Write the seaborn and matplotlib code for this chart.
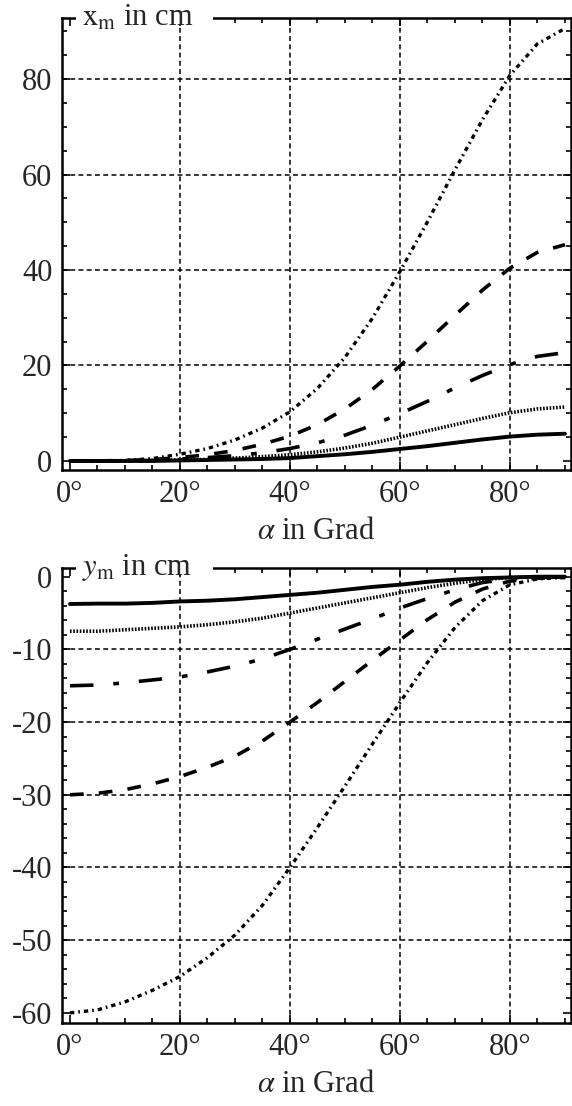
import matplotlib
matplotlib.use("Agg")
import matplotlib.pyplot as plt
from matplotlib.patches import Rectangle
from matplotlib.ticker import FixedLocator, MultipleLocator, FuncFormatter
import seaborn as sns

# Winkel in Grad
alpha = [0, 5, 10, 15, 20, 25, 30, 35, 40, 45, 50, 55, 60, 65, 70, 75, 80, 85, 90]

# x_m in cm (oben), fuenf Kurven
xm_1 = [0, 0, 0, 0, 0.1, 0.2, 0.3, 0.4, 0.6, 1.0, 1.4, 1.9, 2.5, 3.1, 3.8, 4.5, 5.1, 5.5, 5.7]
xm_2 = [0, 0, 0, 0.1, 0.2, 0.3, 0.6, 0.9, 1.3, 1.9, 2.7, 3.7, 5.0, 6.3, 7.6, 8.9, 10.1, 10.9, 11.3]
xm_3 = [0, 0, 0, 0.1, 0.4, 0.7, 1.1, 1.7, 2.6, 3.8, 5.4, 7.5, 9.9, 12.5, 15.3, 17.9, 20.2, 21.9, 22.7]
xm_4 = [0, 0, 0.1, 0.3, 0.7, 1.3, 2.2, 3.5, 5.2, 7.6, 10.9, 15.0, 19.9, 25.1, 30.5, 35.8, 40.4, 43.7, 45.3]
xm_5 = [0, 0, 0.1, 0.5, 1.4, 2.6, 4.4, 6.9, 10.3, 15.2, 21.7, 29.9, 39.7, 50.1, 61.0, 71.5, 80.8, 87.4, 90.6]

# y_m in cm (unten)
ym_1 = [-3.75, -3.7, -3.7, -3.6, -3.4, -3.3, -3.1, -2.8, -2.5, -2.2, -1.8, -1.4, -1.1, -0.7, -0.4, -0.2, -0.1, 0, 0]
ym_2 = [-7.5, -7.5, -7.3, -7.1, -6.9, -6.6, -6.2, -5.7, -5.0, -4.3, -3.6, -2.9, -2.2, -1.5, -0.9, -0.4, -0.1, 0, 0]
ym_3 = [-15, -14.9, -14.6, -14.2, -13.8, -13.1, -12.3, -11.3, -10.0, -8.6, -7.2, -5.8, -4.3, -3.0, -1.8, -0.8, -0.3, -0.1, 0]
ym_4 = [-30, -29.8, -29.3, -28.5, -27.5, -26.2, -24.7, -22.6, -20.0, -17.3, -14.4, -11.5, -8.7, -5.9, -3.5, -1.7, -0.6, -0.2, -0.1]
ym_5 = [-60, -59.6, -58.5, -56.9, -55.0, -52.4, -49.3, -45.2, -40.0, -34.5, -28.8, -23.0, -17.3, -11.8, -7.0, -3.3, -1.1, -0.3, -0.1]

x_ticks = [0, 20, 40, 60, 80]
top_yticks = [0, 20, 40, 60, 80]
bottom_yticks = [0, -10, -20, -30, -40, -50, -60]

sns.set_style("ticks")
plt.rcParams['font.family'] = ['Liberation Serif', 'DejaVu Serif']
plt.rcParams['mathtext.fontset'] = 'stix'
plt.rcParams['axes.unicode_minus'] = False

styles = [
    ('-', 2.8),
    ((0, (0.45, 0.45)), 2.6),
    ((0, (6.5, 5.5, 1.6, 5.5)), 2.6),
    ((0, (3.8, 4.2)), 2.6),
    ((0, (1.3, 1.2, 0.5, 1.2)), 2.4),
]
grid_ls = (0, (3.2, 2.2))

fig = plt.figure(figsize=(5.72, 11.06), dpi=100)
ax1 = fig.add_axes([62/572, 1 - 470/1106, 509/572, 452/1106])
ax2 = fig.add_axes([62/572, 1 - 1023/1106, 509/572, 455/1106])

for ys, (ls, lw) in zip([xm_1, xm_2, xm_3, xm_4, xm_5], styles):
    sns.lineplot(x=alpha, y=ys, ax=ax1, color='black', linestyle=ls, linewidth=lw,
                 dash_capstyle='butt')
for ys, (ls, lw) in zip([ym_1, ym_2, ym_3, ym_4, ym_5], styles):
    sns.lineplot(x=alpha, y=ys, ax=ax2, color='black', linestyle=ls, linewidth=lw,
                 dash_capstyle='butt')

ax1.set_ylim(-1.9, 92.8)
ax2.set_ylim(-61.4, 1.2)
ax1.yaxis.set_major_locator(FixedLocator(top_yticks))
ax1.yaxis.set_minor_locator(MultipleLocator(5))
ax2.yaxis.set_major_locator(FixedLocator(bottom_yticks))
ax2.yaxis.set_minor_locator(MultipleLocator(2))

# Gitter nur innen (nicht bei 0 bzw. -60)
for v in x_ticks[1:]:
    ax1.axvline(v, color='black', ls=grid_ls, lw=1.1, zorder=0.5)
    ax2.axvline(v, color='black', ls=grid_ls, lw=1.1, zorder=0.5)
for v in top_yticks[1:]:
    ax1.axhline(v, color='black', ls=grid_ls, lw=1.1, zorder=0.5)
for v in bottom_yticks[1:-1]:
    ax2.axhline(v, color='black', ls=grid_ls, lw=1.1, zorder=0.5)

for ax in (ax1, ax2):
    ax.set_xlim(-1.45, 91.1)
    ax.xaxis.set_major_locator(FixedLocator(x_ticks))
    ax.xaxis.set_minor_locator(MultipleLocator(5))
    ax.xaxis.set_major_formatter(FuncFormatter(lambda v, p: f"{int(v)}°"))
    ax.yaxis.set_major_formatter(FuncFormatter(lambda v, p: f"{int(v)}"))
    ax.grid(False)
    ax.tick_params(which='both', direction='in', top=True, right=True, labelsize=22,
                   color='black', width=1.2, pad=7)
    ax.tick_params(which='major', length=6)
    ax.tick_params(which='minor', length=3.5)
    for s in ax.spines.values():
        s.set_linewidth(1.8)
        s.set_color('black')
    ax.set_xlabel(r"$\alpha$ in Grad", fontsize=22, labelpad=6)
    ax.set_ylabel("")
    # weisses Feld fuer die Achsenbeschriftung auf der oberen Kante
    ax.add_patch(Rectangle((0.028, 0.985), 0.268, 0.03, transform=ax.transAxes,
                           facecolor='white', edgecolor='none', clip_on=False, zorder=5))

ax1.text(0.04, 1.0, r"$\mathrm{x_m}$ in cm", transform=ax1.transAxes, fontsize=22,
         ha='left', va='center', zorder=6)
ax2.text(0.04, 1.0, r"$y_\mathrm{m}$ in cm", transform=ax2.transAxes, fontsize=22,
         ha='left', va='center', zorder=6)

fig.savefig("out.png", dpi=100)
